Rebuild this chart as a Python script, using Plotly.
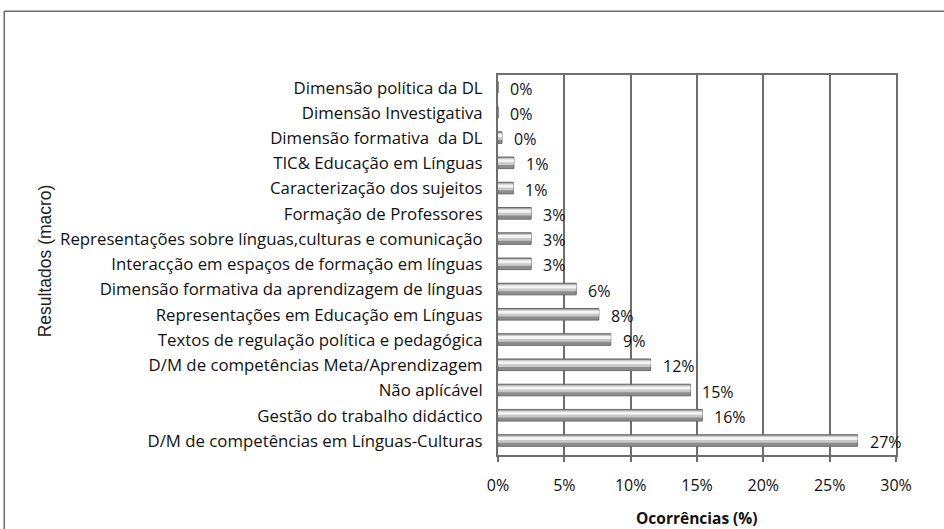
import plotly.graph_objects as go

# categories listed bottom -> top (as drawn)
categorias = [
    "D/M de competências em Línguas-Culturas",
    "Gestão do trabalho didáctico",
    "Não aplícável",
    "D/M de competências Meta/Aprendizagem",
    "Textos de regulação política e pedagógica",
    "Representações em Educação em Línguas",
    "Dimensão formativa da aprendizagem de línguas",
    "Interacção em espaços de formação em línguas",
    "Representações sobre línguas,culturas e comunicação",
    "Formação de Professores",
    "Caracterização dos sujeitos",
    "TIC& Educação em Línguas",
    "Dimensão formativa  da DL",
    "Dimensão Investigativa",
    "Dimensão política da DL",
]
ocorrencias = [27.1, 15.4, 14.5, 11.5, 8.5, 7.6, 5.9, 2.5, 2.5, 2.5, 1.15, 1.2, 0.3, 0.0, 0.0]
rotulos = ["27%", "16%", "15%", "12%", "9%", "8%", "6%", "3%", "3%", "3%", "1%", "1%", "0%", "0%", "0%"]
x_ticks = [0, 5, 10, 15, 20, 25, 30]

FONT = "Open Sans"
grid_col = "#6e6e6e"

fig = go.Figure()

# shaded "cylinder" look: dark base, mid band, bright highlight
fig.add_trace(go.Bar(
    x=ocorrencias, y=categorias, orientation="h",
    width=0.46, offset=-0.21,
    marker=dict(color="#8c8c8c", line=dict(color="#6a6a6a", width=1)),
    hoverinfo="skip",
))
fig.add_trace(go.Bar(
    x=ocorrencias, y=categorias, orientation="h",
    width=0.28, offset=-0.07,
    marker=dict(color="#c8c8c8", line=dict(width=0)),
    hoverinfo="skip",
))
fig.add_trace(go.Bar(
    x=ocorrencias, y=categorias, orientation="h",
    width=0.12, offset=0.04,
    marker=dict(color="#f4f4f4", line=dict(width=0)),
    hoverinfo="skip",
))

# value labels just beyond the bar ends
for cat, val, lab in zip(categorias, ocorrencias, rotulos):
    fig.add_annotation(
        x=val, y=cat, text=lab, showarrow=False,
        xanchor="left", xshift=10, yshift=-1,
        font=dict(family=FONT, size=16, color="#111111"),
    )

# y-axis title
fig.add_annotation(
    xref="paper", yref="paper", x=-1.138, y=0.51,
    xanchor="center", yanchor="middle",
    text="Resultados (macro)", textangle=-90, showarrow=False,
    font=dict(family="Liberation Sans", size=17.5, color="#222222"),
)
# x-axis title
fig.add_annotation(
    xref="paper", yref="paper", x=0.5, y=-0.166,
    xanchor="center", yanchor="middle",
    text="<b>Ocorrências (%)</b>", showarrow=False,
    font=dict(family=FONT, size=15.5, color="#111111"),
)

# chart frame: only top and left edges are visible in the crop
frame = dict(color="#6a6a6a", width=1.5)
fig.add_shape(type="line", xref="paper", yref="paper",
              x0=-1.2405, x1=1.3, y0=1.168, y1=1.168, line=frame, layer="below")
fig.add_shape(type="line", xref="paper", yref="paper",
              x0=-1.2405, x1=-1.2405, y0=-0.4, y1=1.168, line=frame, layer="below")

fig.update_layout(
    barmode="overlay",
    showlegend=False,
    width=944, height=529,
    margin=dict(l=498, r=48, t=75, b=74),
    paper_bgcolor="white", plot_bgcolor="white",
    font=dict(family=FONT, size=15, color="#111111"),
    xaxis=dict(
        range=[0, 30], tickvals=x_ticks,
        ticktext=[f"{v}%" for v in x_ticks],
        showgrid=True, gridcolor=grid_col, gridwidth=2.2,
        showline=True, linecolor=grid_col, linewidth=2, mirror=True,
        ticks="outside", ticklen=5, tickcolor=grid_col, tickwidth=2,
        ticklabelstandoff=10, zeroline=False,
        tickfont=dict(family=FONT, size=16),
    ),
    yaxis=dict(
        categoryorder="array", categoryarray=categorias,
        showgrid=False, showline=True, linecolor=grid_col, linewidth=2,
        mirror=True, ticks="", ticklabelstandoff=10,
        tickfont=dict(family=FONT, size=16.8),
    ),
)

fig.write_html(
    "out.html",
    config={"displayModeBar": False},
    post_script="document.body.style.margin='0';document.body.style.overflow='hidden';",
)
